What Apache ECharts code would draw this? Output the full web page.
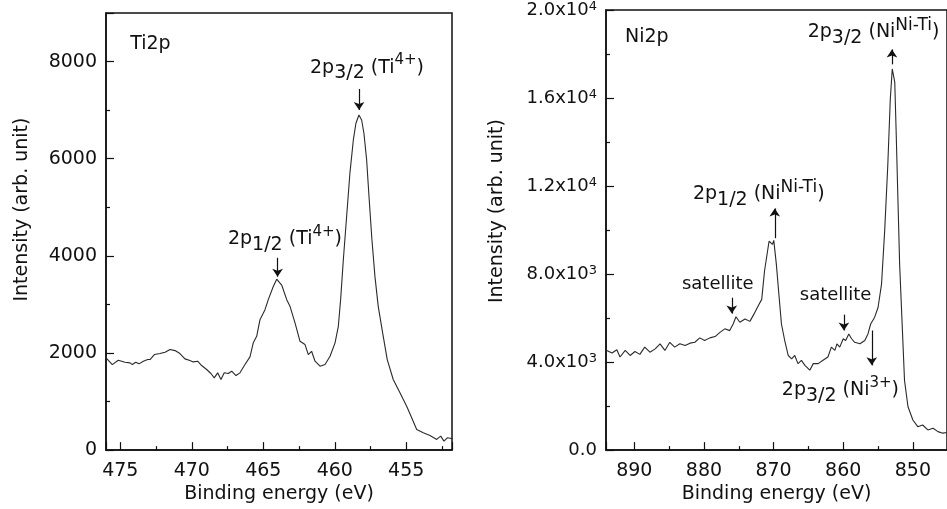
<!DOCTYPE html>
<html>
<head>
<meta charset="utf-8">
<script src="https://cdn.jsdelivr.net/npm/echarts@6/dist/echarts.min.js"></script>
<style>
html,body{margin:0;padding:0;background:#fff;}
#main{width:947px;height:509px;}
</style>
</head>
<body>
<div id="main"></div>
<script>
// Ti2p spectrum (binding energy eV, intensity)
var tiEnergy=[476.06,475.56,475.14,474.67,474.32,474.16,473.92,473.69,473.39,473.08,472.92,472.62,472.22,471.87,471.52,471.17,470.83,470.48,470.13,469.9,469.59,469.31,468.96,468.66,468.43,468.19,467.96,467.73,467.45,467.21,466.91,466.63,466.28,465.93,465.7,465.46,465.23,464.88,464.65,464.3,464.06,463.7,463.36,463.13,462.78,462.43,462.08,461.85,461.62,461.38,461.03,460.68,460.33,459.98,459.75,459.59,459.4,459.17,458.94,458.7,458.52,458.31,458.12,457.96,457.77,457.59,457.4,457.19,456.96,456.65,456.33,455.91,455.44,454.97,454.62,454.27,453.81,453.34,452.87,452.59,452.36,452.13,451.75];
var tiIntensity=[1920,1761,1850,1809,1796,1761,1809,1776,1830,1864,1864,1967,1988,2015,2070,2049,1988,1878,1844,1816,1830,1741,1659,1577,1488,1591,1453,1591,1577,1624,1535,1591,1761,1920,2208,2343,2686,2892,3098,3370,3520,3390,3098,2960,2619,2240,2173,1967,2035,1830,1727,1761,1933,2208,2549,3098,3920,4810,5702,6386,6730,6900,6797,6524,5975,5153,4331,3577,2960,2412,1864,1453,1180,904,666,425,357,302,220,288,185,254,234];

// Ni2p spectrum
var niEnergy=[894.1,893.9,893.2,892.5,892.05,891.3,890.6,889.9,889.2,888.5,887.75,887.0,886.3,885.6,884.9,884.2,883.45,882.7,882.0,881.3,880.6,879.9,879.15,878.4,877.7,877.0,876.3,875.8,875.4,874.85,874.1,873.4,872.8,872.2,871.7,871.3,870.65,870.4,870.15,869.97,869.6,869.2,868.87,868.4,867.9,867.4,866.96,866.5,866.0,865.5,864.8,864.3,863.6,862.9,862.2,861.7,861.2,860.9,860.5,860.0,859.65,859.2,858.8,858.35,857.6,856.9,856.45,856.06,855.5,855.0,854.5,854.05,853.6,853.24,852.96,852.6,852.4,852.15,851.9,851.5,851.2,850.7,850.0,849.3,848.6,847.85,847.1,846.4,845.7,845.1];
var niIntensity=[4550,4500,4410,4560,4230,4530,4300,4480,4350,4680,4450,4600,4830,4530,4900,4680,4830,4750,4860,4900,5100,4980,5100,5160,5350,5510,5430,5730,6060,5810,5960,5850,6190,6560,6850,8140,9490,9570,9350,9530,8440,6940,5730,4980,4300,4150,4300,3930,4080,3850,3630,3930,3930,4080,4230,4680,4530,4830,4680,5060,4980,5280,5060,4900,4830,4980,5280,5730,6030,6480,7540,9950,12960,15960,17320,16720,14460,11450,8440,5430,3170,1970,1370,1065,1140,915,990,840,770,800];

// right panel y tick labels
var niTickValues=[0,4000,8000,12000,16000,20000];
var niTickMant=['0.0','4.0','8.0','1.2','1.6','2.0'];
var niTickExp=['','3','3','4','4','4'];

var FONT='DejaVu Sans';
var INK='#111';

function pairs(xs,ys){
    var out=[];
    for(var i=0;i<xs.length;i++){out.push([xs[i],ys[i]]);}
    return out;
}

var rich={
    m:{fontFamily:FONT,fontSize:19,color:INK,lineHeight:30},
    t:{fontFamily:FONT,fontSize:18,color:INK,lineHeight:30},
    d:{fontFamily:FONT,fontSize:19,color:INK,lineHeight:16,verticalAlign:'bottom'},
    u:{fontFamily:FONT,fontSize:15,color:INK,lineHeight:22,verticalAlign:'top'},
    n:{fontFamily:FONT,fontSize:17,color:INK,lineHeight:22,verticalAlign:'top'},
    N:{fontFamily:FONT,fontSize:17,color:INK,lineHeight:8,verticalAlign:'top'},
    U:{fontFamily:FONT,fontSize:15,color:INK,lineHeight:8,verticalAlign:'top'}
};

function note(coord,text){
    return {coord:coord,label:{formatter:text}};
}
function arrow(x,y0,y1){
    return [{coord:[x,y0]},{coord:[x,y1]}];
}

var tickStyle={inside:true,length:8,lineStyle:{color:INK,width:1.2}};
var minorStyle={show:true,splitNumber:2,length:4,lineStyle:{color:INK,width:1.2}};
var lineAx={lineStyle:{color:INK,width:1.5}};
var nameStyle={fontFamily:FONT,fontSize:19,color:INK};
var plain=function(v){return String(v);};

var markPointBase={
    symbol:'circle',symbolSize:0,silent:true,
    itemStyle:{color:'transparent'},
    label:{show:true,position:'right',distance:0,rich:rich}
};
var markLineBase={
    symbol:['none','arrow'],symbolSize:8,silent:true,
    lineStyle:{color:INK,width:1.2,type:'solid'},
    label:{show:false}
};

var myChart=echarts.init(document.getElementById('main'));
var option={
    animation:false,
    backgroundColor:'#fff',
    grid:[
        {left:106,top:13,width:346,height:437.7,show:true,borderColor:INK,borderWidth:1.5},
        {left:606,top:7.3,width:342,height:443,show:true,borderColor:INK,borderWidth:1.5}
    ],
    xAxis:[
        {gridIndex:0,type:'value',inverse:true,min:451.8,max:476,
            axisLine:lineAx,axisTick:tickStyle,minorTick:minorStyle,splitLine:{show:false},
            axisLabel:{fontFamily:FONT,fontSize:19,color:INK,margin:11,showMinLabel:false,showMaxLabel:false,formatter:plain},
            name:'Binding energy (eV)',nameLocation:'middle',nameGap:34,nameTextStyle:nameStyle},
        {gridIndex:1,type:'value',inverse:true,min:845.1,max:894.06,
            axisLine:lineAx,axisTick:tickStyle,minorTick:minorStyle,splitLine:{show:false},
            axisLabel:{fontFamily:FONT,fontSize:19,color:INK,margin:11,showMinLabel:false,showMaxLabel:false,formatter:plain},
            name:'Binding energy (eV)',nameLocation:'middle',nameGap:34,nameTextStyle:nameStyle}
    ],
    yAxis:[
        {gridIndex:0,type:'value',min:0,max:9000,interval:2000,
            axisLine:lineAx,axisTick:tickStyle,minorTick:minorStyle,splitLine:{show:false},
            axisLabel:{fontFamily:FONT,fontSize:19,color:INK,margin:9,showMaxLabel:false,formatter:plain},
            name:'Intensity (arb. unit)',nameLocation:'middle',nameGap:74,
            nameTextStyle:{fontFamily:FONT,fontSize:19,color:INK,padding:[0,0,0,44]}},
        {gridIndex:1,type:'value',min:0,max:20000,interval:4000,
            axisLine:lineAx,axisTick:tickStyle,minorTick:minorStyle,splitLine:{show:false},
            axisLabel:{margin:9,
                formatter:function(v){
                    var i=niTickValues.indexOf(v);
                    if(i<0){return '';}
                    return niTickExp[i]?'{b|'+niTickMant[i]+'x10}{s|'+niTickExp[i]+'}':'{b|'+niTickMant[i]+'}';
                },
                rich:{
                    b:{fontFamily:FONT,fontSize:18,color:INK,lineHeight:20},
                    s:{fontFamily:FONT,fontSize:13,color:INK,lineHeight:12,verticalAlign:'top'}
                }},
            name:'Intensity (arb. unit)',nameLocation:'middle',nameGap:99,
            nameTextStyle:{fontFamily:FONT,fontSize:19,color:INK,padding:[0,0,0,38]}}
    ],
    series:[
        {type:'line',xAxisIndex:0,yAxisIndex:0,showSymbol:false,symbol:'none',clip:true,
            lineStyle:{color:'#2a2a2a',width:1.1},
            data:pairs(tiEnergy,tiIntensity),
            markPoint:Object.assign({},markPointBase,{data:[
                note([474.31,8360],'{m|Ti2p}'),
                note([461.73,7870],'{m|2p}{d|3/2}{m| (Ti}{u|4+}{m|)}'),
                note([467.47,4340],'{m|2p}{d|1/2}{m| (Ti}{u|4+}{m|)}')
            ]}),
            markLine:Object.assign({},markLineBase,{data:[
                arrow(458.3,7435,7003),
                arrow(464.0,3960,3570)
            ]})
        },
        {type:'line',xAxisIndex:1,yAxisIndex:1,showSymbol:false,symbol:'none',clip:true,
            lineStyle:{color:'#2a2a2a',width:1.1},
            data:pairs(niEnergy,niIntensity),
            markPoint:Object.assign({},markPointBase,{data:[
                note([891.33,18750],'{m|Ni2p}'),
                note([865.1,18975],'{m|2p}{d|3/2}{m| (Ni}{N|Ni-Ti}{m|)}'),
                note([881.58,11616],'{m|2p}{d|1/2}{m| (Ni}{n|Ni-Ti}{m|)}'),
                note([883.16,7553],'{t|satellite}'),
                note([866.24,7011],'{t|satellite}'),
                note([868.82,2722],'{m|2p}{d|3/2}{m| (Ni}{U|3+}{m|)}')
            ]}),
            markLine:Object.assign({},markLineBase,{data:[
                arrow(853.0,17530,18210),
                arrow(869.83,9630,10984),
                arrow(876.0,6926,6203),
                arrow(859.9,6158,5436),
                arrow(855.9,5436,3851)
            ]})
        }
    ]
};
myChart.setOption(option);
</script>
</body>
</html>
